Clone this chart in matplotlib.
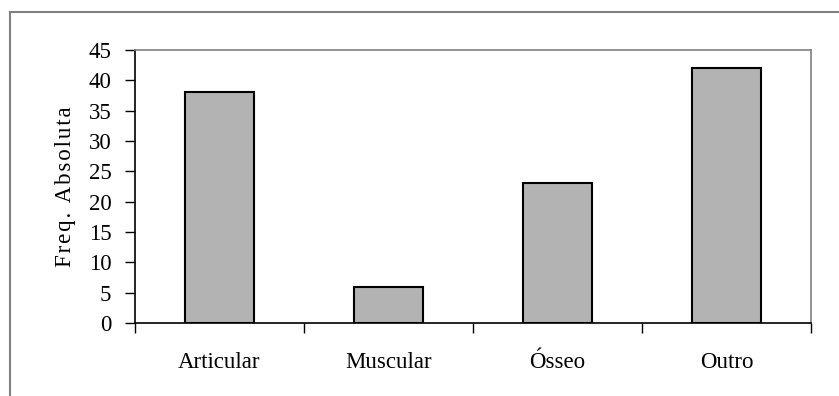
import matplotlib.pyplot as plt
from matplotlib.lines import Line2D
import numpy as np

categorias = ['Articular', 'Muscular', 'Ósseo', 'Outro']
frequencias = [38, 6, 23, 42]
rotulo_y = 'Freq. Absoluta'

plt.rcParams['font.family'] = ['Liberation Serif', 'DejaVu Serif']

fig = plt.figure(figsize=(8.39, 3.96), dpi=100)
ax = fig.add_axes([135 / 839, 1 - 323 / 396, 676 / 839, 273 / 396])

ind = np.arange(len(categorias))
ax.bar(ind, frequencias, width=0.41, color='#b3b3b3', edgecolor='black', linewidth=1.5)

ax.set_xlim(-0.5, len(categorias) - 0.5)
ax.set_ylim(0, 45)
ax.set_yticks(np.arange(0, 46, 5))
ax.tick_params(axis='y', direction='out', length=7, width=1, pad=10, labelsize=16.5, colors='black')

# categorias no centro, marcas entre categorias
ax.set_xticks(ind)
ax.set_xticklabels(categorias)
ax.tick_params(axis='x', which='major', length=0, pad=21, labelsize=16.5)
ax.set_xticks(np.arange(-0.5, len(categorias), 1), minor=True)
ax.tick_params(axis='x', which='minor', direction='out', length=7, width=1)

for lado in ['top', 'right']:
    ax.spines[lado].set_color('#808080')
    ax.spines[lado].set_linewidth(1.2)
for lado in ['left', 'bottom']:
    ax.spines[lado].set_color('black')
    ax.spines[lado].set_linewidth(1.2)

# espaçamento leve entre letras (hair space)
ax.set_ylabel('\u200a'.join(rotulo_y), fontsize=16.5, labelpad=9)

# moldura externa do gráfico
fig.add_artist(Line2D([10 / 839, 10 / 839], [0, 1 - 12 / 396], color='#808080', lw=1.5, transform=fig.transFigure))
fig.add_artist(Line2D([10 / 839, 1], [1 - 12 / 396, 1 - 12 / 396], color='#808080', lw=1.5, transform=fig.transFigure))

plt.savefig('out.png', dpi=100)
